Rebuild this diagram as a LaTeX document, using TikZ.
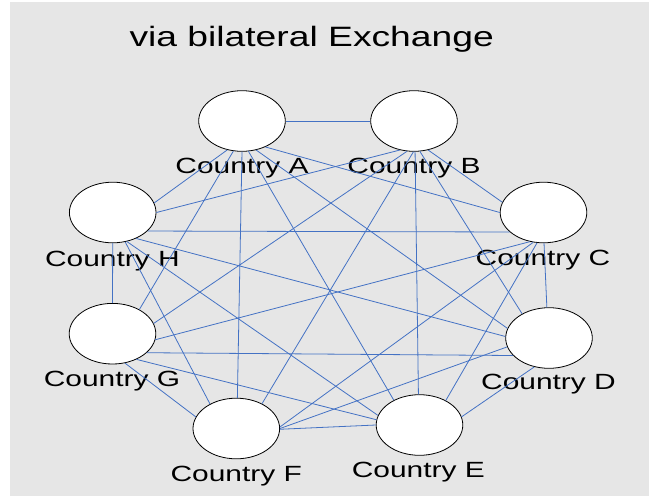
\documentclass[tikz,border=0pt]{standalone}
\usepackage{fontspec}
\setmainfont{Liberation Sans}
\usetikzlibrary{shapes.geometric}
\definecolor{panel}{RGB}{230,230,230}
\definecolor{linkblue}{RGB}{68,114,196}
\tikzset{
	country/.style={ellipse, draw=black, fill=white, line width=0.8pt, minimum width=86.6pt, minimum height=60.6pt, inner sep=0pt},
	link/.style={draw=linkblue, line width=0.8pt},
	cname/.style={anchor=base, xscale=1.36, inner sep=0pt, font=\fontsize{22}{26}\selectfont},
}
\begin{document}
\begin{tikzpicture}[x=1pt, y=-1pt]
	\useasboundingbox (0,0) rectangle (649,496);
	\fill[panel] (10,2) rectangle (649,496);
	\node[anchor=base, xscale=1.33, inner sep=0pt, font=\fontsize{28}{32}\selectfont] (title) at (311.7,46.7) {via bilateral Exchange};
	
	\foreach \n/\x/\y in {A/242/121, B/414/121, C/543.5/212.5, D/549/338, E/419.5/425, F/236.3/428.5, G/112.5/333.7, H/112.7/212.5} {
		\node[country] (\n) at (\x,\y) {};
	}
	\foreach \n/\x/\y in {A/242/173.3, B/414/173.3, C/543/265, D/548.5/389.5, E/418.3/477.5, F/236.2/481, G/112/386, H/112.4/266} {
		\node[cname] (name\n) at (\x,\y) {Country \n};
	}
	
	% every pair of countries
	\foreach \p/\q in {A.0/B.180, A.-48/C.180, A.-64/D.167, A.-78/E.136, A.-90/F.88, A.-106/G.42, A.-117/H.13,
		B.-64/C.166, B.-79/D.138, B.-88/E.92, B.-91/F.44, B.-103/G.14, B.-116/H.0,
		C.-89/D.94, C.-102/E.43, C.-109/F.2, C.-115/G.-8, C.-150/H.-28,
		D.-117/E.11, D.-168/F.0, D.-154/G.-29, D.178/H.-48,
		E.180/F.-1, E.173/G.-47, E.167/H.-64,
		F.164/G.-67, F.137/H.-67,
		G.90/H.-90} {
		\draw[link] (\p) -- (\q);
	}
\end{tikzpicture}
\end{document}
